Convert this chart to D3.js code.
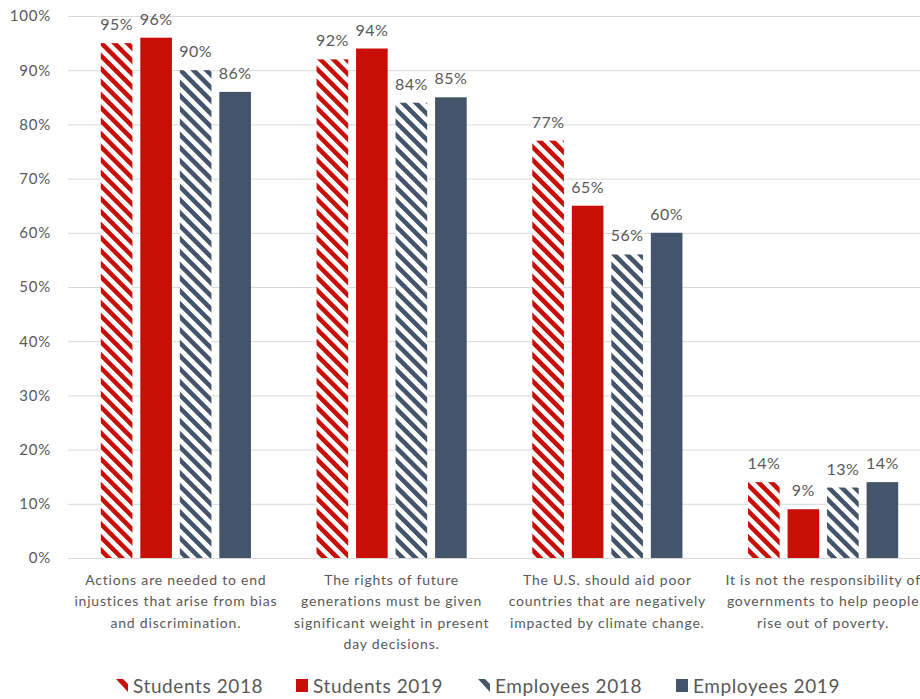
<!DOCTYPE html>
<html>
<head>
<meta charset="utf-8">
<script src="https://cdn.jsdelivr.net/npm/d3@7"></script>
<style>
  html, body { margin: 0; padding: 0; background: #fff; }
  svg { display: block; }
  text { font-family: Lato, "Open Sans", sans-serif; fill: #595959; }
</style>
</head>
<body>
<svg id="chart" width="920" height="699"></svg>
<script>
// Survey statements (category axis), each wrapped into display lines
const categories = [
  ["Actions are needed to end", "injustices that arise from bias", "and discrimination."],
  ["The rights of future", "generations must be given", "significant weight in present", "day decisions."],
  ["The U.S. should aid poor", "countries that are negatively", "impacted by climate change."],
  ["It is not the responsibility of", "governments to help people", "rise out of poverty."]
];
const seriesNames = ["Students 2018", "Students 2019", "Employees 2018", "Employees 2019"];
const students2018 = [95, 92, 77, 14];
const students2019 = [96, 94, 65, 9];
const employees2018 = [90, 84, 56, 13];
const employees2019 = [86, 85, 60, 14];
const yTicks = [0, 10, 20, 30, 40, 50, 60, 70, 80, 90, 100];

const seriesValues = [students2018, students2019, employees2018, employees2019];
const RED = "#C70F08", NAVY = "#44546A";
const fills = ["url(#hatchRed)", RED, "url(#hatchNavy)", NAVY];

const svg = d3.select("#chart");
const W = 920, H = 699;
const plotLeft = 68, plotRight = 931, plotTop = 16, plotBottom = 558;

// hatch patterns: diagonal stripes running top-left to bottom-right
const defs = svg.append("defs");
[["hatchRed", RED], ["hatchNavy", NAVY]].forEach(([id, c]) => {
  const p = defs.append("pattern").attr("id", id)
    .attr("patternUnits", "userSpaceOnUse")
    .attr("width", 9.2).attr("height", 9.2)
    .attr("patternTransform", "rotate(-45)");
  p.append("rect").attr("width", 9.2).attr("height", 9.2).attr("fill", "#fff");
  p.append("rect").attr("x", 0).attr("width", 4.6).attr("height", 9.2).attr("fill", c);
});

const x0 = d3.scaleBand().domain(d3.range(categories.length))
  .range([plotLeft, plotRight]).paddingInner(0).paddingOuter(0);
const x1 = d3.scaleBand().domain(d3.range(seriesNames.length))
  .range([0, x0.bandwidth()]).paddingInner(0.2).paddingOuter(0.83);
const y = d3.scaleLinear().domain([0, 100]).range([plotBottom, plotTop]);

// gridlines
svg.append("g").selectAll("line").data(yTicks).join("line")
  .attr("x1", plotLeft).attr("x2", W)
  .attr("y1", d => y(d) + 0.5).attr("y2", d => y(d) + 0.5)
  .attr("stroke", "#D9D9D9").attr("stroke-width", 1);

// y axis labels
const yAxis = d3.axisLeft(y).tickValues(yTicks).tickFormat(d => d + "%").tickSize(0).tickPadding(17);
const ya = svg.append("g").attr("transform", `translate(${plotLeft},0)`).call(yAxis);
ya.select(".domain").remove();
ya.selectAll("text").style("font-size", "15px").style("letter-spacing", "0.8px")
  .attr("fill", "#595959").style("font-family", "Lato, 'Open Sans', sans-serif");

// bars and value labels
const groups = svg.append("g").selectAll("g").data(categories).join("g")
  .attr("transform", (d, i) => `translate(${x0(i)},0)`);

groups.each(function (cat, ci) {
  const g = d3.select(this);
  seriesValues.forEach((vals, si) => {
    const v = vals[ci];
    g.append("rect")
      .attr("x", x1(si)).attr("width", x1.bandwidth())
      .attr("y", y(v)).attr("height", y(0) - y(v))
      .attr("fill", fills[si]);
    g.append("text")
      .attr("x", x1(si) + x1.bandwidth() / 2).attr("y", y(v) - 13)
      .attr("text-anchor", "middle").style("font-size", "16px")
      .style("letter-spacing", "0.5px")
      .text(v + "%");
  });
  // category label
  const t = g.append("text").attr("text-anchor", "middle").style("font-size", "14px")
    .style("letter-spacing", "0.8px");
  cat.forEach((line, li) => {
    t.append("tspan").attr("x", x0.bandwidth() / 2).attr("y", plotBottom + 27 + li * 21.3).text(line);
  });
});

// legend
const legendX = [116, 296, 478, 676];
const lg = svg.append("g").selectAll("g").data(seriesNames).join("g")
  .attr("transform", (d, i) => `translate(${legendX[i]},679)`);
lg.each(function (name, i) {
  const g = d3.select(this);
  const c = i < 2 ? RED : NAVY;
  if (i % 2 === 0) {
    // hatched swatch: a single stripe fragment
    g.append("path").attr("d", "M0,0 L7,0 L12,5 L12,13 Z").attr("fill", c);
  } else {
    g.append("rect").attr("x", 0).attr("y", 0).attr("width", 12).attr("height", 13).attr("fill", c);
  }
  g.append("text").attr("x", 17).attr("y", 13.5).style("font-size", "19px")
    .style("letter-spacing", "0.6px").text(name);
});
</script>
</body>
</html>
